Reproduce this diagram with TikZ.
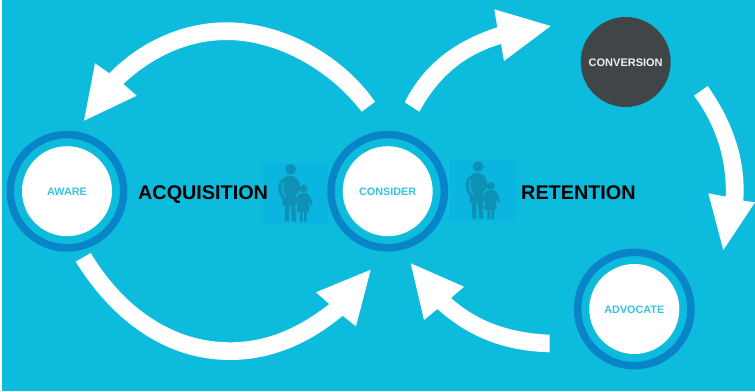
\documentclass[tikz,border=0pt]{standalone}
\usepackage{fontspec}
\setmainfont{Liberation Sans}
\definecolor{bg}{HTML}{0DBCDD}
\definecolor{ringc}{HTML}{0A84C8}
\definecolor{labelc}{HTML}{38C2E4}
\definecolor{darkc}{HTML}{404548}
\definecolor{tile}{HTML}{0AB5DF}
\definecolor{figc}{HTML}{0F91B6}
\tikzset{
  ringo/.style={circle,draw=ringc,line width=7.5pt,fill=bg,minimum size=113.4pt,inner sep=0pt},
  disc/.style={circle,fill=white,minimum size=90pt,inner sep=0pt},
  darkdisc/.style={circle,fill=darkc,minimum size=90pt,inner sep=0pt},
  disclabel/.style={inner sep=0pt,text=labelc,font=\bfseries\fontsize{10.8}{12}\selectfont},
  darklabel/.style={inner sep=0pt,text=white!94!black,font=\bfseries\fontsize{11}{12}\selectfont},
  bigword/.style={inner sep=0pt,text=black,font=\bfseries\fontsize{19.8}{22}\selectfont},
  curvedarrow/.style={fill=white,draw=none},
  icontile/.style={fill=tile,draw=none},
  figure shape/.style={fill=figc,draw=none}
}
\newcommand{\family}{%
  \fill[figure shape] (92,43) circle (16);
  \fill[figure shape] (78,64) .. controls (90,60) and (100,62) .. (110,70)
     .. controls (118,80) and (122,92) .. (122,104) -- (114,112) -- (108,118) -- (106,152)
     -- (108,200) -- (96,200) -- (92,152) -- (88,152) -- (87,200) -- (75,200) -- (74,152)
     -- (67,152) -- (67,132) .. controls (56,120) and (50,95) .. (60,78) -- cycle;
  \fill[bg,opacity=.6] (66,82) .. controls (60,100) and (66,118) .. (76,128) -- (78,122) .. controls (70,110) and (68,96) .. (72,84) -- cycle;
  \fill[figure shape] (131,101) circle (12);
  \fill[figure shape] (120,114) -- (142,114) .. controls (152,122) and (156,136) .. (158,150)
     -- (152,151) -- (146,136) -- (148,172) -- (140,172) -- (140,200) -- (132,200) -- (132,172)
     -- (128,172) -- (128,200) -- (120,200) -- (120,172) -- (110,172) -- (114,136) -- (108,150) -- (103,148)
     .. controls (106,134) and (110,122) .. cycle;
}
\begin{document}
\begin{tikzpicture}[x=1pt,y=-1pt]
\useasboundingbox (0,0) rectangle (755,391);
\fill[white] (0,0) rectangle (755,391);
\fill[bg] (2,0) rectangle (755,391);
% icon tiles
\fill[icontile] (262.7,162.7) rectangle (328,224);
\begin{scope}[shift={(260,155)},x=1/3 pt,y=-1/3 pt]\family\end{scope}
\fill[icontile] (450,160) rectangle (516,221);
\begin{scope}[shift={(447.3,152.3)},x=1/3 pt,y=-1/3 pt]\family\end{scope}
% arrows
\fill[curvedarrow] (375,101.7) .. controls (340,52) and (280,22.3) .. (226.7,22.3) .. controls (182,22.3) and (140,42) .. (109.3,73.3)
  -- (95,63.3) -- (84,120.7) -- (136.7,95.7) -- (123.3,84)
  .. controls (152,57) and (188,40) .. (226.7,40) .. controls (275,40) and (328,68) .. (361.7,111.7) -- cycle;
\fill[curvedarrow] (90.7,253) .. controls (125,310) and (175,342.3) .. (230,342.3) .. controls (268,342.3) and (300,327) .. (329.3,304)
  -- (316,292.3) -- (370.7,269.7) -- (356,326.3) -- (342.7,315.7)
  .. controls (310,343) and (272,360) .. (230,360) .. controls (165,360) and (112,320) .. (75.7,261.7) -- cycle;
\fill[curvedarrow] (404.7,102.3) .. controls (425,62) and (458,40) .. (497.3,27.3)
  -- (494.3,9.3) -- (550.7,26) -- (504,61) -- (501,44)
  .. controls (467,54) and (440,74) .. (419.3,111.7) -- cycle;
\fill[curvedarrow] (707.7,86) .. controls (733,122) and (746,160) .. (743.3,200.7)
  -- (755,202.3) -- (723.3,250) -- (708.3,193.3) -- (725.7,196.7)
  .. controls (727,160) and (716,125) .. (694,95.7) -- cycle;
\fill[curvedarrow] (549.7,334.7) .. controls (510,333) and (478,322) .. (451,298)
  -- (464,286.7) -- (410.7,263.3) -- (424,320) -- (437.3,309)
  .. controls (470,338) and (505,351) .. (549.7,352.3) -- cycle;
% nodes
\node[ringo] (awarering) at (67,191.2) {};
\node[disc] (awaredisc) at (67,191.2) {};
\node[disclabel] (aware) at (67,191.7) {AWARE};
\node[ringo] (considerring) at (387.7,191.2) {};
\node[disc] (considerdisc) at (387.7,191.2) {};
\node[disclabel] (consider) at (387.7,191.7) {CONSIDER};
\node[ringo] (advocatering) at (634.3,309) {};
\node[disc] (advocatedisc) at (634.3,309) {};
\node[disclabel] (advocate) at (634.3,309.5) {ADVOCATE};
\node[darkdisc] (conversiondisc) at (625.7,62) {};
\node[darklabel] (conversion) at (625.7,62.5) {CONVERSION};
\node[bigword,anchor=base west] (acq) at (138,199.3) {ACQUISITION};
\node[bigword,anchor=base west] (ret) at (521,199.3) {RETENTION};
\end{tikzpicture}
\end{document}
